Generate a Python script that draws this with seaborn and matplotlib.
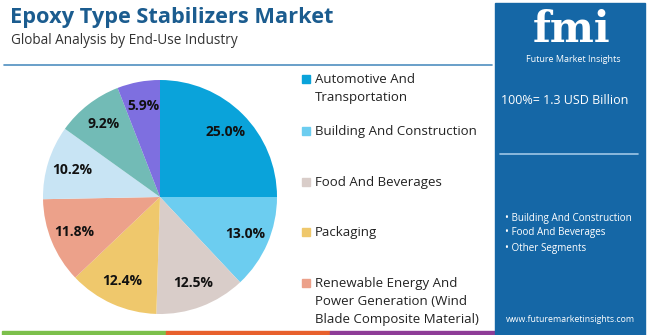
import matplotlib
matplotlib.use("Agg")
import matplotlib.pyplot as plt
from matplotlib.patches import Rectangle
import seaborn as sns

categories = ["Automotive And Transportation", "Building And Construction", "Food And Beverages",
              "Packaging", "Renewable Energy And Power Generation (Wind Blade Composite Material)",
              "Other A", "Other B", "Other C"]
shares = [25.0, 13.0, 12.5, 12.4, 11.8, 10.2, 9.2, 5.9]
colors = ["#0aa3da", "#6ccdf0", "#d9cdc9", "#efc86c", "#eca18a", "#c8e4f4", "#72bbb6", "#7e6fe0"]
legend_labels = ["Automotive And\nTransportation", "Building And Construction", "Food And Beverages",
                 "Packaging", "Renewable Energy And\nPower Generation (Wind\nBlade Composite Material)"]
side_bullets = ["Building And Construction", "Food And Beverages", "Other Segments"]
title = "Epoxy Type Stabilizers Market"
subtitle = "Global Analysis by End-Use Industry"
total_text = "100%= 1.3 USD Billion"

sns.set_theme(style="white")
plt.rcParams["font.family"] = ["Open Sans", "DejaVu Sans"]

W, H = 650, 335
fig = plt.figure(figsize=(6.5, 3.35), dpi=100)
fig.patch.set_facecolor("white")

def fx(x): return x / W
def fy(y): return 1 - y / H

# title
fig.text(fx(10), fy(18), title, fontsize=15.7, fontweight="bold", color="#1b5c8f", va="center", ha="left")
fig.text(fx(11), fy(40), subtitle, fontsize=9.8, color="#333333", va="center", ha="left")
# separator line
fig.add_artist(plt.Line2D([fx(4), fx(492)], [fy(65), fy(65)], color="#4f8fc0", lw=1.2))

# bottom color bar
for x0, x1, c in [(2, 166, "#7cc04b"), (166, 330, "#e8602c"), (330, 495, "#8e3c97")]:
    fig.patches.append(Rectangle((fx(x0), 0), fx(x1) - fx(x0), 4 / H, transform=fig.transFigure,
                                 color=c, zorder=1))

# right panel
fig.patches.append(Rectangle((fx(495), 0), fx(645) - fx(495), fy(3), transform=fig.transFigure,
                             color="#1567a6", zorder=1))
fig.text(fx(572), fy(30), "fmi", fontsize=30, fontweight="bold", color="white", ha="center", va="center",
         family=["DejaVu Serif"])
fig.text(fx(573), fy(59), "Future Market Insights", fontsize=6.5, color="white", ha="center", va="center")
fig.text(fx(501), fy(101), total_text, fontsize=9, color="white", ha="left", va="center")
fig.add_artist(plt.Line2D([fx(500), fx(638)], [fy(154), fy(154)], color="#9fc7e6", lw=1.2))
for lab, yy in zip(side_bullets, [218, 232, 248]):
    fig.text(fx(505), fy(yy), "• " + lab, fontsize=7.1, color="white", ha="left", va="center")
fig.text(fx(570), fy(320), "www.futuremarketinsights.com", fontsize=6.3, color="white", ha="center", va="center")

# pie
cx, cy, R = 160, 197, 117
ax = fig.add_axes([fx(cx - R), fy(cy + R), 2 * R / W, 2 * R / H])
wedges, texts = ax.pie(shares, colors=colors, startangle=90, counterclock=False, radius=1,
                       labels=[f"{v:.1f}%" for v in shares], labeldistance=0.79,
                       textprops=dict(fontsize=10, fontweight="bold", color="#111111"),
                       wedgeprops=dict(linewidth=0))
for t in texts:
    t.set_horizontalalignment("center")
    t.set_verticalalignment("center")
ax.set_xlim(-1, 1)
ax.set_ylim(-1, 1)
ax.set_aspect("equal")
ax.axis("off")

# legend
leg_y = [79, 131, 182, 232, 283]
for lab, c, yy in zip(legend_labels, colors, leg_y):
    fig.patches.append(Rectangle((fx(302), fy(yy + 4)), 8 / W, 8 / H, transform=fig.transFigure, color=c))
    fig.text(fx(315), fy(yy - 6), lab, fontsize=9.5, color="#222222", ha="left", va="top", linespacing=1.5)

fig.savefig("out.png", dpi=100, facecolor="white")
